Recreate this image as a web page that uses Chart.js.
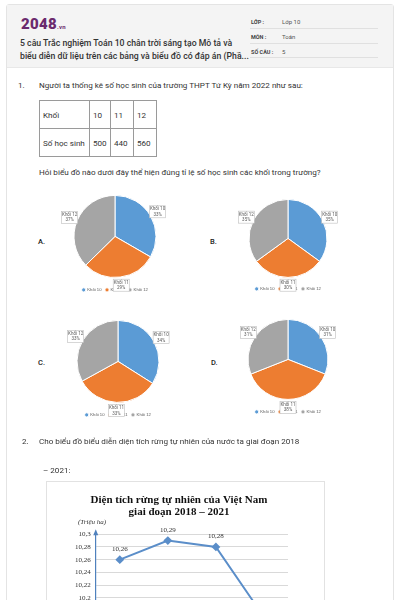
<!DOCTYPE html>
<html>
<head>
<meta charset="utf-8">
<script src="https://cdn.jsdelivr.net/npm/chart.js@4"></script>
<style>
  html, body { margin: 0; padding: 0; width: 400px; height: 600px; overflow: hidden; background: #fff; }
  body { position: relative; font-family: Roboto, "Noto Sans", sans-serif; color: #333; }
  .abs { position: absolute; }
  #card { left: 6px; top: 4px; width: 386px; height: 700px; border: 1px solid #e4e4e4; border-radius: 3px; }
  #head { left: 7px; top: 5px; width: 386px; height: 62px; background: #f4f4f4; border-bottom: 1px solid #e8e8e8; }
  #logo { left: 21px; top: 15px; font-size: 15px; font-weight: 900; color: #6b2a6e; letter-spacing: 0.3px; }
  #logo span { font-size: 6px; font-weight: 700; }
  #title { left: 20px; top: 37px; font-size: 8.7px; font-weight: 500; line-height: 13px; color: #333; white-space: nowrap; }
  .fk { font-size: 5.5px; font-weight: 700; color: #444; }
  .fv { font-size: 6px; color: #555; }
  .fl { height: 1px; background: #e0e0e0; left: 250px; width: 128px; }
  .q { font-size: 8.1px; color: #333; white-space: nowrap; }
  table { border-collapse: collapse; table-layout: fixed; width: 117px; font-size: 8.1px; color: #333; }
  td { border: 1px solid #9a9a9a; padding: 0 3px; height: 27px; vertical-align: middle; white-space: nowrap; }
  .opt { font-size: 7.5px; font-weight: 500; color: #222; }
  #lineBox { left: 46px; top: 481px; width: 277px; height: 200px; border: 1px solid #e2e2e2; }
</style>
</head>
<body>
<div id="card" class="abs"></div>
<div id="head" class="abs"></div>
<div id="logo" class="abs">2048<span>.vn</span></div>
<div id="title" class="abs">5 câu Trắc nghiệm Toán 10 chân trời sáng tạo Mô tả và<br>biểu diễn dữ liệu trên các bảng và biểu đồ có đáp án (Phầ...</div>

<div class="abs fk" style="left:251px;top:19px">LỚP :</div>
<div class="abs fv" style="left:282px;top:18px">Lớp 10</div>
<div class="abs fl" style="top:28px"></div>
<div class="abs fk" style="left:251px;top:34px">MÔN :</div>
<div class="abs fv" style="left:282px;top:33px">Toán</div>
<div class="abs fl" style="top:43px"></div>
<div class="abs fk" style="left:251px;top:49px">SỐ CÂU :</div>
<div class="abs fv" style="left:282px;top:48px">5</div>
<div class="abs fl" style="top:57px"></div>

<div class="abs q" style="left:18px;top:80px">1.</div>
<div class="abs q" style="left:39px;top:80px">Người ta thống kê số học sinh của trường THPT Tứ Kỳ năm 2022 như sau:</div>
<table class="abs" style="left:39px;top:100px">
  <colgroup><col style="width:50px"><col style="width:21px"><col style="width:23px"><col style="width:23px"></colgroup>
  <tr><td>Khối</td><td>10</td><td>11</td><td>12</td></tr>
  <tr><td>Số học sinh</td><td>500</td><td>440</td><td>560</td></tr>
</table>
<div class="abs q" style="left:39px;top:167px">Hỏi biểu đồ nào dưới đây thể hiện đúng tỉ lệ số học sinh các khối trong trường?</div>

<div class="abs opt" style="left:38px;top:237px">A.</div>
<div class="abs opt" style="left:210px;top:237px">B.</div>
<div class="abs opt" style="left:38px;top:358px">C.</div>
<div class="abs opt" style="left:211px;top:358px">D.</div>

<canvas id="pieA" class="abs" style="left:45px;top:183px"></canvas>
<canvas id="pieB" class="abs" style="left:218px;top:188px"></canvas>
<canvas id="pieC" class="abs" style="left:48px;top:308px"></canvas>
<canvas id="pieD" class="abs" style="left:218px;top:307px"></canvas>

<div class="abs q" style="left:22px;top:436px">2.</div>
<div class="abs q" style="left:39px;top:436px">Cho biểu đồ biểu diễn diện tích rừng tự nhiên của nước ta giai đoạn 2018</div>
<div class="abs q" style="left:43px;top:465px">– 2021:</div>

<div id="lineBox" class="abs"></div>
<canvas id="lineChart" class="abs" style="left:46px;top:481px"></canvas>

<script>
const grades = ['Khối 10', 'Khối 11', 'Khối 12'];
const pieA = [33, 29, 37];
const pieB = [35, 30, 35];
const pieC = [34, 33, 33];
const pieD = [31, 38, 31];
const pieColors = ['#5b9bd5', '#ed7d31', '#a5a5a5'];

const years = ['2018', '2019', '2020', '2021'];
const forestArea = [10.26, 10.29, 10.28, 10.17];
const yTicks = [10.1, 10.12, 10.14, 10.16, 10.18, 10.2, 10.22, 10.24, 10.26, 10.28, 10.3];

// boxed labels beside each slice
const sliceLabels = {
  id: 'sliceLabels',
  afterDatasetsDraw(chart) {
    const ctx = chart.ctx;
    const meta = chart.getDatasetMeta(0);
    const vals = chart.data.datasets[0].data;
    ctx.save();
    ctx.font = '4.5px Roboto';
    ctx.textAlign = 'center';
    ctx.textBaseline = 'middle';
    meta.data.forEach((arc, i) => {
      const mid = (arc.startAngle + arc.endAngle) / 2;
      const r = arc.outerRadius * 1.2;
      const x = arc.x + Math.cos(mid) * r;
      const y = arc.y + Math.sin(mid) * r;
      const w = 16, h = 12;
      ctx.fillStyle = '#fff';
      ctx.fillRect(x - w / 2, y - h / 2, w, h);
      ctx.strokeStyle = '#bdbdbd';
      ctx.lineWidth = 0.6;
      ctx.strokeRect(x - w / 2, y - h / 2, w, h);
      ctx.fillStyle = '#595959';
      ctx.fillText(chart.data.labels[i], x, y - 2.7);
      ctx.fillText(vals[i] + '%', x, y + 2.8);
    });
    ctx.restore();
  }
};

function makePie(id, values, h, rad) {
  const el = document.getElementById(id);
  el.width = 140; el.height = h;
  return new Chart(el, {
    type: 'pie',
    data: {
      labels: grades,
      datasets: [{ data: values, backgroundColor: pieColors, borderColor: '#fff', borderWidth: 1 }]
    },
    options: {
      responsive: false,
      animation: false,
      radius: rad,
      layout: { padding: { top: 6, bottom: 8, left: 20, right: 20 } },
      plugins: {
        legend: {
          position: 'bottom',
          labels: { usePointStyle: true, pointStyle: 'circle', boxWidth: 3, boxHeight: 3, padding: 4, color: '#595959', font: { size: 4.2 } }
        },
        tooltip: { enabled: false }
      }
    },
    plugins: [sliceLabels]
  });
}

makePie('pieA', pieA, 127, 41);
makePie('pieB', pieB, 121, 39);
makePie('pieC', pieC, 127, 41);
makePie('pieD', pieD, 125, 40);

const fmt = v => String(+Number(v).toFixed(2)).replace('.', ',');

// value labels, unit text and y-axis arrow
const lineExtras = {
  id: 'lineExtras',
  afterDatasetsDraw(chart) {
    const ctx = chart.ctx;
    const meta = chart.getDatasetMeta(0);
    const area = chart.chartArea;
    ctx.save();
    ctx.font = '7px "Liberation Serif"';
    ctx.fillStyle = '#333';
    ctx.textAlign = 'center';
    ctx.textBaseline = 'bottom';
    meta.data.forEach((pt, i) => {
      ctx.fillText(fmt(forestArea[i]), pt.x, pt.y - 7);
    });
    ctx.font = 'italic 7px "Liberation Serif"';
    ctx.textAlign = 'left';
    ctx.textBaseline = 'middle';
    ctx.fillText('(Triệu ha)', 32, area.top - 12);
    ctx.fillStyle = '#4f81bd';
    ctx.beginPath();
    ctx.moveTo(area.left, area.top - 5);
    ctx.lineTo(area.left - 2.5, area.top + 1);
    ctx.lineTo(area.left + 2.5, area.top + 1);
    ctx.closePath();
    ctx.fill();
    ctx.restore();
  }
};

const lc = document.getElementById('lineChart');
lc.width = 280; lc.height = 215;
new Chart(lc, {
  type: 'line',
  data: {
    labels: years,
    datasets: [{
      data: forestArea,
      borderColor: '#5b8ec9',
      backgroundColor: '#5b8ec9',
      borderWidth: 2,
      pointStyle: 'rectRot',
      pointRadius: 3,
      tension: 0
    }]
  },
  options: {
    responsive: false,
    animation: false,
    layout: { padding: { top: 0, bottom: 12, left: 24, right: 38 } },
    scales: {
      x: {
        offset: true,
        grid: { display: false },
        border: { color: '#bfbfbf' },
        ticks: { color: '#333', font: { family: 'Liberation Serif', size: 7 } }
      },
      y: {
        min: 10.1,
        max: 10.3,
        afterBuildTicks: axis => { axis.ticks = yTicks.map(v => ({ value: v })); },
        grid: { color: '#d9d9d9', drawTicks: false },
        border: { color: '#4f81bd', width: 1.2 },
        ticks: { color: '#333', padding: 5, font: { family: 'Liberation Serif', size: 7 }, callback: v => fmt(v) }
      }
    },
    plugins: {
      legend: { display: false },
      tooltip: { enabled: false },
      title: {
        display: true,
        text: ['Diện tích rừng tự nhiên của Việt Nam', 'giai đoạn 2018 – 2021'],
        color: '#111',
        font: { family: 'Liberation Serif', size: 11, weight: 'bold', lineHeight: 1.1 },
        padding: { top: 13, bottom: 16 }
      }
    }
  },
  plugins: [lineExtras]
});
</script>
</body>
</html>
